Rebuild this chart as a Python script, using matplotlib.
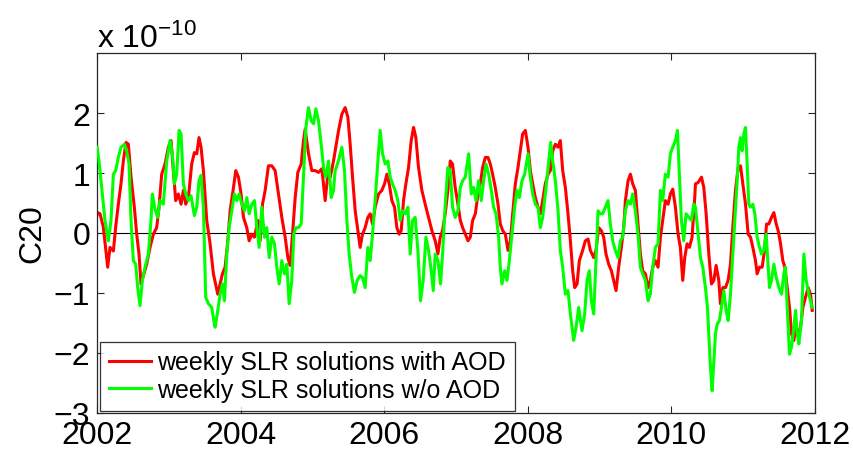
import matplotlib
matplotlib.use("Agg")
import matplotlib.pyplot as plt
import numpy as np

# Weekly SLR C20 solutions (units of 1e-10), decimal years
t_with_aod = [
    2002.000, 2002.009, 2002.042, 2002.088, 2002.149, 2002.181, 2002.228, 2002.260, 2002.297, 2002.334,
    2002.367, 2002.404, 2002.437, 2002.474, 2002.520, 2002.553, 2002.585, 2002.613, 2002.646, 2002.692,
    2002.739, 2002.785, 2002.831, 2002.864, 2002.901, 2002.948, 2002.994, 2003.031, 2003.064, 2003.096,
    2003.133, 2003.171, 2003.203, 2003.236, 2003.273, 2003.319, 2003.356, 2003.389, 2003.421, 2003.449,
    2003.482, 2003.528, 2003.575, 2003.621, 2003.682, 2003.715, 2003.747, 2003.784, 2003.822, 2003.854,
    2003.901, 2003.933, 2003.970, 2004.007, 2004.040, 2004.086, 2004.119, 2004.156, 2004.193, 2004.240,
    2004.272, 2004.305, 2004.342, 2004.388, 2004.435, 2004.481, 2004.528, 2004.574, 2004.621, 2004.658,
    2004.690, 2004.723, 2004.760, 2004.797, 2004.844, 2004.876, 2004.899, 2004.946, 2004.992, 2005.039,
    2005.085, 2005.132, 2005.178, 2005.215, 2005.248, 2005.294, 2005.363, 2005.410, 2005.456, 2005.494,
    2005.526, 2005.559, 2005.596, 2005.633, 2005.665, 2005.698, 2005.735, 2005.772, 2005.805, 2005.837,
    2005.874, 2005.921, 2005.967, 2006.005, 2006.037, 2006.070, 2006.107, 2006.144, 2006.176, 2006.209,
    2006.237, 2006.269, 2006.302, 2006.339, 2006.376, 2006.409, 2006.441, 2006.478, 2006.525, 2006.571,
    2006.618, 2006.664, 2006.711, 2006.748, 2006.780, 2006.813, 2006.850, 2006.887, 2006.920, 2006.952,
    2006.989, 2007.027, 2007.060, 2007.092, 2007.129, 2007.167, 2007.199, 2007.232, 2007.269, 2007.306,
    2007.338, 2007.371, 2007.408, 2007.445, 2007.478, 2007.510, 2007.547, 2007.585, 2007.617, 2007.650,
    2007.687, 2007.724, 2007.757, 2007.789, 2007.826, 2007.863, 2007.896, 2007.928, 2007.966, 2008.003,
    2008.035, 2008.068, 2008.105, 2008.142, 2008.175, 2008.207, 2008.244, 2008.282, 2008.314, 2008.347,
    2008.384, 2008.421, 2008.453, 2008.486, 2008.523, 2008.560, 2008.593, 2008.625, 2008.653, 2008.686,
    2008.718, 2008.732, 2008.764, 2008.801, 2008.839, 2008.871, 2008.918, 2008.950, 2008.987, 2009.024,
    2009.057, 2009.089, 2009.127, 2009.164, 2009.196, 2009.229, 2009.266, 2009.303, 2009.336, 2009.359,
    2009.396, 2009.429, 2009.461, 2009.498, 2009.535, 2009.568, 2009.600, 2009.638, 2009.675, 2009.707,
    2009.740, 2009.777, 2009.814, 2009.847, 2009.879, 2009.916, 2009.954, 2009.986, 2010.019, 2010.056,
    2010.093, 2010.125, 2010.158, 2010.186, 2010.218, 2010.251, 2010.288, 2010.325, 2010.335, 2010.372,
    2010.419, 2010.451, 2010.484, 2010.521, 2010.558, 2010.591, 2010.623, 2010.660, 2010.683, 2010.716,
    2010.753, 2010.790, 2010.823, 2010.855, 2010.892, 2010.930, 2010.962, 2010.995, 2011.032, 2011.069,
    2011.102, 2011.134, 2011.171, 2011.194, 2011.227, 2011.264, 2011.297, 2011.325, 2011.357, 2011.394,
    2011.427, 2011.460, 2011.487, 2011.520, 2011.552, 2011.580, 2011.613, 2011.645, 2011.673, 2011.706,
    2011.729, 2011.766, 2011.798, 2011.831, 2011.868, 2011.905, 2011.938, 2011.961,
]
c20_with_aod = [
    0.30, 0.34, 0.32, 0.10, -0.57, -0.24, -0.30, 0.10, 0.48, 0.82,
    1.20, 1.51, 1.48, 0.93, 0.43, -0.02, -0.35, -0.85, -0.71, -0.52,
    -0.24, -0.02, 0.09, 0.43, 0.98, 1.15, 1.43, 1.54, 1.04, 0.54,
    0.65, 0.48, 0.71, 0.48, 0.59, 1.15, 1.34, 1.32, 1.59, 1.43,
    1.04, 0.21, -0.18, -0.68, -1.02, -0.85, -0.68, -0.57, -0.13, 0.37,
    0.76, 1.04, 0.93, 0.65, 0.26, 0.09, -0.13, -0.02, -0.07, 0.21,
    -0.13, 0.48, 0.71, 1.12, 1.12, 1.04, 0.65, 0.26, -0.07, -0.41,
    -0.54, -0.02, 0.59, 1.01, 1.15, 1.54, 1.73, 1.32, 1.04, 1.04,
    1.01, 1.07, 0.54, 0.98, 0.93, 1.20, 1.70, 1.98, 2.09, 1.93,
    1.48, 0.93, 0.37, 0.04, -0.24, -0.02, 0.09, 0.26, 0.32, 0.15,
    0.43, 0.65, 0.71, 0.82, 0.98, 0.82, 0.54, 0.43, 0.09, -0.02,
    0.04, 0.54, 0.82, 1.09, 1.54, 1.76, 1.59, 1.09, 0.71, 0.48,
    0.26, 0.04, -0.13, -0.35, -0.07, 0.04, 0.32, 0.71, 1.20, 1.15,
    0.76, 0.48, 0.21, 0.09, -0.02, -0.13, -0.07, 0.21, 0.32, 0.65,
    0.82, 1.09, 1.26, 1.26, 1.15, 0.98, 0.76, 0.48, 0.15, 0.04,
    -0.02, -0.29, -0.13, 0.32, 0.82, 1.09, 1.37, 1.65, 1.71, 1.43,
    1.04, 0.82, 0.59, 0.43, 0.32, 0.54, 0.82, 0.98, 1.04, 1.37,
    1.48, 1.43, 1.54, 1.04, 0.76, 0.32, -0.13, -0.63, -0.91, -0.85,
    -0.46, -0.41, -0.29, -0.13, -0.10, -0.29, -0.41, -0.29, 0.09, 0.04,
    -0.07, -0.35, -0.52, -0.63, -0.79, -0.96, -0.57, -0.24, 0.09, 0.54,
    0.87, 0.98, 0.82, 0.71, 0.15, -0.35, -0.63, -0.68, -0.91, -0.79,
    -0.57, -0.46, -0.57, -0.07, 0.21, 0.54, 0.48, 0.65, 0.73, 0.43,
    -0.02, -0.24, -0.79, -0.41, -0.18, -0.24, -0.07, 0.59, 0.82, 0.84,
    0.93, 0.76, 0.32, -0.35, -0.85, -0.79, -0.54, -0.79, -1.18, -0.91,
    -0.91, -0.79, -0.52, 0.09, 0.71, 1.09, 1.12, 0.82, 0.48, -0.02,
    -0.07, -0.24, -0.46, -0.68, -0.57, -0.57, -0.29, 0.15, 0.15, 0.26,
    0.34, 0.15, 0.04, -0.18, -0.46, -0.57, -0.91, -1.24, -1.68, -1.79,
    -1.57, -1.68, -1.57, -1.24, -1.07, -0.91, -1.02, -1.29,
]

t_without_aod = [
    2002.000, 2002.028, 2002.065, 2002.111, 2002.158, 2002.195, 2002.228, 2002.260, 2002.297, 2002.334,
    2002.381, 2002.413, 2002.446, 2002.474, 2002.506, 2002.539, 2002.567, 2002.599, 2002.632, 2002.669,
    2002.715, 2002.752, 2002.771, 2002.808, 2002.845, 2002.878, 2002.924, 2002.971, 2003.017, 2003.050,
    2003.078, 2003.110, 2003.143, 2003.171, 2003.203, 2003.236, 2003.273, 2003.310, 2003.356, 2003.389,
    2003.421, 2003.449, 2003.482, 2003.514, 2003.552, 2003.598, 2003.635, 2003.645, 2003.682, 2003.715,
    2003.747, 2003.775, 2003.808, 2003.840, 2003.877, 2003.914, 2003.947, 2003.979, 2004.017, 2004.054,
    2004.086, 2004.119, 2004.156, 2004.193, 2004.226, 2004.258, 2004.295, 2004.333, 2004.365, 2004.398,
    2004.435, 2004.472, 2004.504, 2004.537, 2004.574, 2004.611, 2004.644, 2004.676, 2004.713, 2004.741,
    2004.769, 2004.806, 2004.844, 2004.876, 2004.909, 2004.946, 2004.983, 2005.016, 2005.048, 2005.085,
    2005.122, 2005.155, 2005.187, 2005.225, 2005.262, 2005.294, 2005.317, 2005.363, 2005.410, 2005.447,
    2005.480, 2005.512, 2005.549, 2005.586, 2005.624, 2005.665, 2005.698, 2005.735, 2005.772, 2005.805,
    2005.837, 2005.874, 2005.912, 2005.944, 2005.977, 2006.014, 2006.051, 2006.084, 2006.116, 2006.153,
    2006.190, 2006.223, 2006.255, 2006.293, 2006.330, 2006.362, 2006.395, 2006.432, 2006.469, 2006.506,
    2006.543, 2006.581, 2006.618, 2006.655, 2006.683, 2006.711, 2006.748, 2006.785, 2006.813, 2006.850,
    2006.887, 2006.920, 2006.952, 2006.989, 2007.027, 2007.060, 2007.092, 2007.129, 2007.176, 2007.213,
    2007.245, 2007.278, 2007.315, 2007.352, 2007.385, 2007.417, 2007.455, 2007.492, 2007.524, 2007.557,
    2007.594, 2007.617, 2007.640, 2007.678, 2007.710, 2007.743, 2007.780, 2007.817, 2007.849, 2007.882,
    2007.919, 2007.956, 2008.003, 2008.035, 2008.068, 2008.105, 2008.142, 2008.175, 2008.207, 2008.244,
    2008.282, 2008.319, 2008.347, 2008.384, 2008.421, 2008.453, 2008.486, 2008.523, 2008.560, 2008.593,
    2008.616, 2008.639, 2008.672, 2008.709, 2008.755, 2008.792, 2008.825, 2008.857, 2008.885, 2008.918,
    2008.950, 2008.978, 2009.010, 2009.043, 2009.080, 2009.117, 2009.150, 2009.182, 2009.219, 2009.257,
    2009.289, 2009.322, 2009.359, 2009.396, 2009.429, 2009.461, 2009.498, 2009.535, 2009.568, 2009.600,
    2009.638, 2009.675, 2009.707, 2009.740, 2009.777, 2009.814, 2009.847, 2009.879, 2009.916, 2009.954,
    2009.986, 2010.019, 2010.056, 2010.084, 2010.111, 2010.139, 2010.172, 2010.204, 2010.242, 2010.279,
    2010.311, 2010.335, 2010.372, 2010.405, 2010.437, 2010.474, 2010.502, 2010.521, 2010.544, 2010.567,
    2010.591, 2010.614, 2010.637, 2010.669, 2010.697, 2010.730, 2010.762, 2010.790, 2010.823, 2010.855,
    2010.883, 2010.916, 2010.939, 2010.962, 2010.985, 2011.009, 2011.032, 2011.055, 2011.078, 2011.102,
    2011.134, 2011.162, 2011.194, 2011.227, 2011.255, 2011.287, 2011.320, 2011.348, 2011.366, 2011.394,
    2011.427, 2011.460, 2011.497, 2011.534, 2011.566, 2011.589, 2011.613, 2011.645, 2011.673, 2011.706,
    2011.729, 2011.752, 2011.775, 2011.812, 2011.845, 2011.877, 2011.914, 2011.961,
]
c20_without_aod = [
    1.43, 1.20, 0.76, 0.21, -0.13, 0.21, 0.98, 1.04, 1.26, 1.43,
    1.48, 1.37, 1.15, 0.21, -0.46, -0.52, -0.91, -1.21, -0.79, -0.57,
    -0.35, 0.21, 0.65, 0.40, 0.26, 0.54, 0.48, 1.20, 1.54, 1.32,
    0.82, 0.98, 1.71, 1.65, 0.82, 0.65, 0.54, 0.62, 0.29, 0.43,
    0.87, 0.96, 0.43, -1.07, -1.18, -1.24, -1.52, -1.57, -1.29, -1.02,
    -0.85, -1.13, -0.35, 0.09, 0.37, 0.65, 0.54, 0.65, 0.48, 0.37,
    0.59, 0.32, 0.48, 0.54, 0.09, -0.24, 0.43, -0.07, 0.09, -0.41,
    -0.07, -0.18, -0.57, -0.85, -0.46, -0.68, -0.52, -1.18, -0.79, -0.02,
    0.09, 0.09, 0.15, 0.93, 1.76, 2.09, 1.87, 1.82, 2.07, 1.87,
    1.48, 1.09, 0.93, 1.20, 0.59, 0.71, 1.04, 1.20, 1.43, 1.04,
    0.21, -0.35, -0.74, -0.99, -0.79, -0.71, -0.74, -0.91, -0.24, -0.46,
    -0.02, 0.54, 1.20, 1.71, 1.32, 1.15, 1.20, 0.93, 0.82, 0.71,
    0.54, 0.21, 0.37, 0.32, 0.43, -0.35, 0.21, 0.26, -0.29, -1.13,
    -0.79, -0.07, -0.29, -0.63, -0.96, -0.35, -0.46, -0.85, -0.35, 0.48,
    1.09, 1.04, 0.43, 0.26, 0.37, 0.76, 0.87, 0.93, 1.32, 0.65,
    0.76, 0.54, 0.87, 0.54, 0.87, 1.15, 0.98, 0.71, 0.43, 0.32,
    -0.07, -0.57, -0.85, -0.63, -0.79, -0.46, -0.02, 0.43, 0.71, 0.59,
    0.87, 0.98, 1.32, 0.93, 0.65, 0.48, 0.43, 0.09, 0.26, 0.65,
    1.09, 1.51, 1.20, 0.87, 0.37, -0.29, -0.57, -1.02, -0.96, -1.35,
    -1.57, -1.79, -1.57, -1.24, -1.63, -1.35, -0.79, -0.63, -1.13, -1.35,
    -0.46, 0.37, 0.32, 0.32, 0.43, 0.54, 0.15, -0.13, -0.29, -0.41,
    -0.13, -0.07, 0.37, 0.54, 0.48, 0.65, 0.37, -0.02, -0.57, -0.68,
    -0.79, -1.13, -1.02, -0.57, -0.24, -0.18, 0.71, 0.54, 0.98, 0.93,
    1.32, 1.43, 1.54, 1.71, 0.98, 0.21, -0.13, 0.32, 0.26, 0.21,
    0.48, 0.43, -0.02, -0.41, -0.57, -0.91, -1.24, -1.68, -2.24, -2.63,
    -2.13, -1.68, -1.52, -1.46, -1.24, -0.96, -1.29, -1.46, -1.02, -0.35,
    0.21, 0.87, 1.43, 1.59, 1.37, 1.65, 1.76, 1.15, 0.48, 0.43,
    0.48, 0.32, -0.07, -0.24, -0.35, -0.29, -0.02, -0.57, -0.91, -0.79,
    -0.52, -0.74, -0.91, -1.02, -0.68, -0.57, -1.24, -2.02, -1.90, -1.57,
    -1.29, -1.68, -1.85, -1.46, -0.35, -0.79, -1.02, -1.24,
]

series_labels = ["weekly SLR solutions with AOD", "weekly SLR solutions w/o AOD"]
x_ticks = [2002, 2004, 2006, 2008, 2010, 2012]
y_ticks = [-3, -2, -1, 0, 1, 2]

plt.rcParams["font.family"] = ["Liberation Sans", "DejaVu Sans"]
plt.rcParams["mathtext.default"] = "regular"

fig = plt.figure(figsize=(8.54, 4.52), dpi=100)
ax = fig.add_axes([97 / 854, 1 - 414 / 452, 718 / 854, 360 / 452])

ax.axhline(0, color="black", lw=0.8, zorder=1)
ax.plot(t_with_aod, c20_with_aod, color="#ff0000", lw=2.2, label=series_labels[0], zorder=2)
ax.plot(t_without_aod, c20_without_aod, color="#00ff00", lw=2.2, label=series_labels[1], zorder=3)

ax.set_xlim(2002, 2012)
ax.set_ylim(-3, 3)
ax.set_xticks(x_ticks)
ax.set_yticks(y_ticks)
ax.tick_params(direction="in", length=5, width=0.8, colors="#262626",
               top=True, right=True, labelsize=23, labelcolor="black")
ax.tick_params(axis="x", pad=5)
ax.tick_params(axis="y", pad=5)
for s in ax.spines.values():
    s.set_color("#262626")
    s.set_linewidth(0.9)

ax.set_ylabel("C20", fontsize=23, labelpad=4)
fig.text(97 / 854, 1 - 48 / 452, r"x $10^{-10}$", fontsize=23, ha="left", va="baseline")

leg = ax.legend(loc="lower left", bbox_to_anchor=(0.004, 0.006), borderaxespad=0,
                fontsize=18, frameon=True, fancybox=False, edgecolor="black",
                handlelength=1.7, handletextpad=0.25, borderpad=0.35, labelspacing=0.15)
leg.get_frame().set_linewidth(0.9)
for line in leg.get_lines():
    line.set_linewidth(2.2)

fig.savefig("out.png", dpi=100)
